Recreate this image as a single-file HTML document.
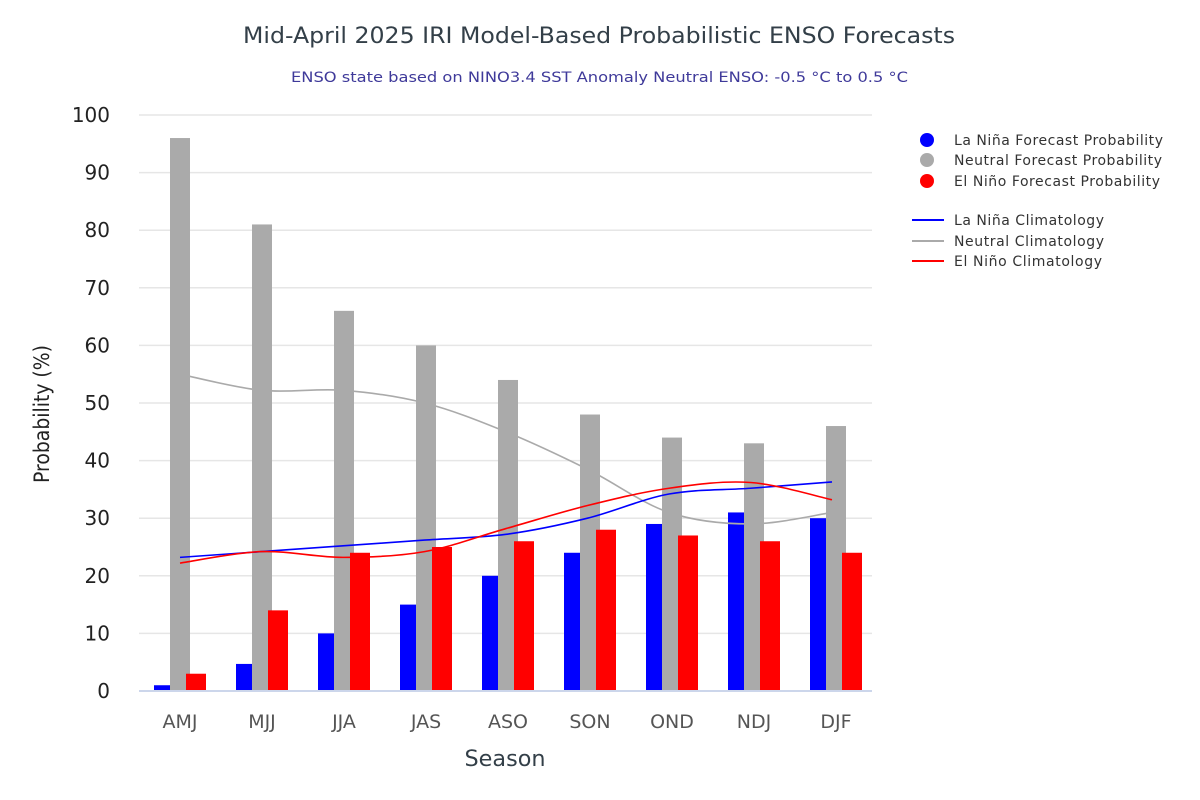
<!DOCTYPE html><html><head><meta charset="utf-8"><style>body{margin:0;background:#fff}svg{display:block;font-family:"DejaVu Sans","Liberation Sans",sans-serif}</style></head><body>
<svg id="s" width="1200" height="800" xmlns="http://www.w3.org/2000/svg">
<text x="243" y="43" font-size="22" fill="#333f48" textLength="712" lengthAdjust="spacingAndGlyphs">Mid-April 2025 IRI Model-Based Probabilistic ENSO Forecasts</text>
<text x="291" y="82" font-size="14" fill="#3f3a9a" textLength="617" lengthAdjust="spacingAndGlyphs">ENSO state based on NINO3.4 SST Anomaly Neutral ENSO: -0.5 °C to 0.5 °C</text>
<g id="g"></g>
<text transform="translate(49,414) rotate(-90)" text-anchor="middle" font-size="21" fill="#222" textLength="138" lengthAdjust="spacingAndGlyphs">Probability (%)</text>
<text x="505" y="766" text-anchor="middle" font-size="22" fill="#333f48" textLength="81" lengthAdjust="spacingAndGlyphs">Season</text>
<circle cx="927" cy="140" r="7" fill="#0000ff"/><circle cx="927" cy="160" r="7" fill="#aaa"/><circle cx="927" cy="181" r="7" fill="#ff0000"/>
<g font-size="14" fill="#333" lengthAdjust="spacingAndGlyphs"><text x="954" y="145" textLength="209">La Niña Forecast Probability</text><text x="954" y="165" textLength="208">Neutral Forecast Probability</text><text x="954" y="186" textLength="206">El Niño Forecast Probability</text>
<text x="954" y="225" textLength="150">La Niña Climatology</text><text x="954" y="246" textLength="150">Neutral Climatology</text><text x="954" y="266" textLength="148">El Niño Climatology</text></g>
<line x1="912" x2="944" y1="220" y2="220" stroke="#0000ff" stroke-width="2"/><line x1="912" x2="944" y1="241" y2="241" stroke="#aaa" stroke-width="2"/><line x1="912" x2="944" y1="261" y2="261" stroke="#ff0000" stroke-width="2"/>
</svg>
<script>
var g=document.getElementById('g'),h='';
function y(v){return 691-5.76*v}
for(var i=0;i<=10;i++){var yy=y(i*10);if(i>0)h+='<line x1="139" x2="872" y1="'+yy+'" y2="'+yy+'" stroke="#e6e6e6" stroke-width="1.5"/>';h+='<text x="110" y="'+(yy+7)+'" text-anchor="end" font-size="20" fill="#222">'+i*10+'</text>';}
var lab=['AMJ','MJJ','JJA','JAS','ASO','SON','OND','NDJ','DJF'];
var a=[1,4.7,10,15,20,24,29,31,30],b=[96,81,66,60,54,48,44,43,46],c=[3,14,24,25,26,28,27,26,24];
var la=[23.2,24.2,25.2,26.2,27.2,30,34.2,35.2,36.3],ne=[55,52.2,52.2,50,45,38.5,31,29,31],ni=[22.2,24.2,23.2,24.2,28.2,32.2,35.2,36.2,33.2];
for(var i=0;i<9;i++){var x=180+82*i;
h+='<rect x="'+(x-26)+'" y="'+y(a[i])+'" width="17" height="'+(5.76*a[i])+'" fill="#0000ff"/>';
h+='<rect x="'+(x-10)+'" y="'+y(b[i])+'" width="20" height="'+(5.76*b[i])+'" fill="#aaa"/>';
h+='<rect x="'+(x+6)+'" y="'+y(c[i])+'" width="20" height="'+(5.76*c[i])+'" fill="#ff0000"/>';
h+='<text x="'+x+'" y="728" text-anchor="middle" font-size="19" fill="#555">'+lab[i]+'</text>';}
h+='<line x1="139" x2="872" y1="691" y2="691" stroke="#ccd6eb" stroke-width="2"/>';
function path(v,col){var p=v.map(function(d,i){return[180+81.5*i,y(d)]});var s='M'+p[0];
for(var i=0;i<p.length-1;i++){var p0=p[Math.max(0,i-1)],p1=p[i],p2=p[i+1],p3=p[Math.min(p.length-1,i+2)];
s+=' C'+(p1[0]+(p2[0]-p0[0])/6)+','+(p1[1]+(p2[1]-p0[1])/6)+' '+(p2[0]-(p3[0]-p1[0])/6)+','+(p2[1]-(p3[1]-p1[1])/6)+' '+p2;}
return '<path d="'+s+'" fill="none" stroke="'+col+'" stroke-width="1.6"/>';}
h+=path(ne,'#aaa')+path(la,'#0000ff')+path(ni,'#ff0000');
g.innerHTML=h;
</script></body></html>
